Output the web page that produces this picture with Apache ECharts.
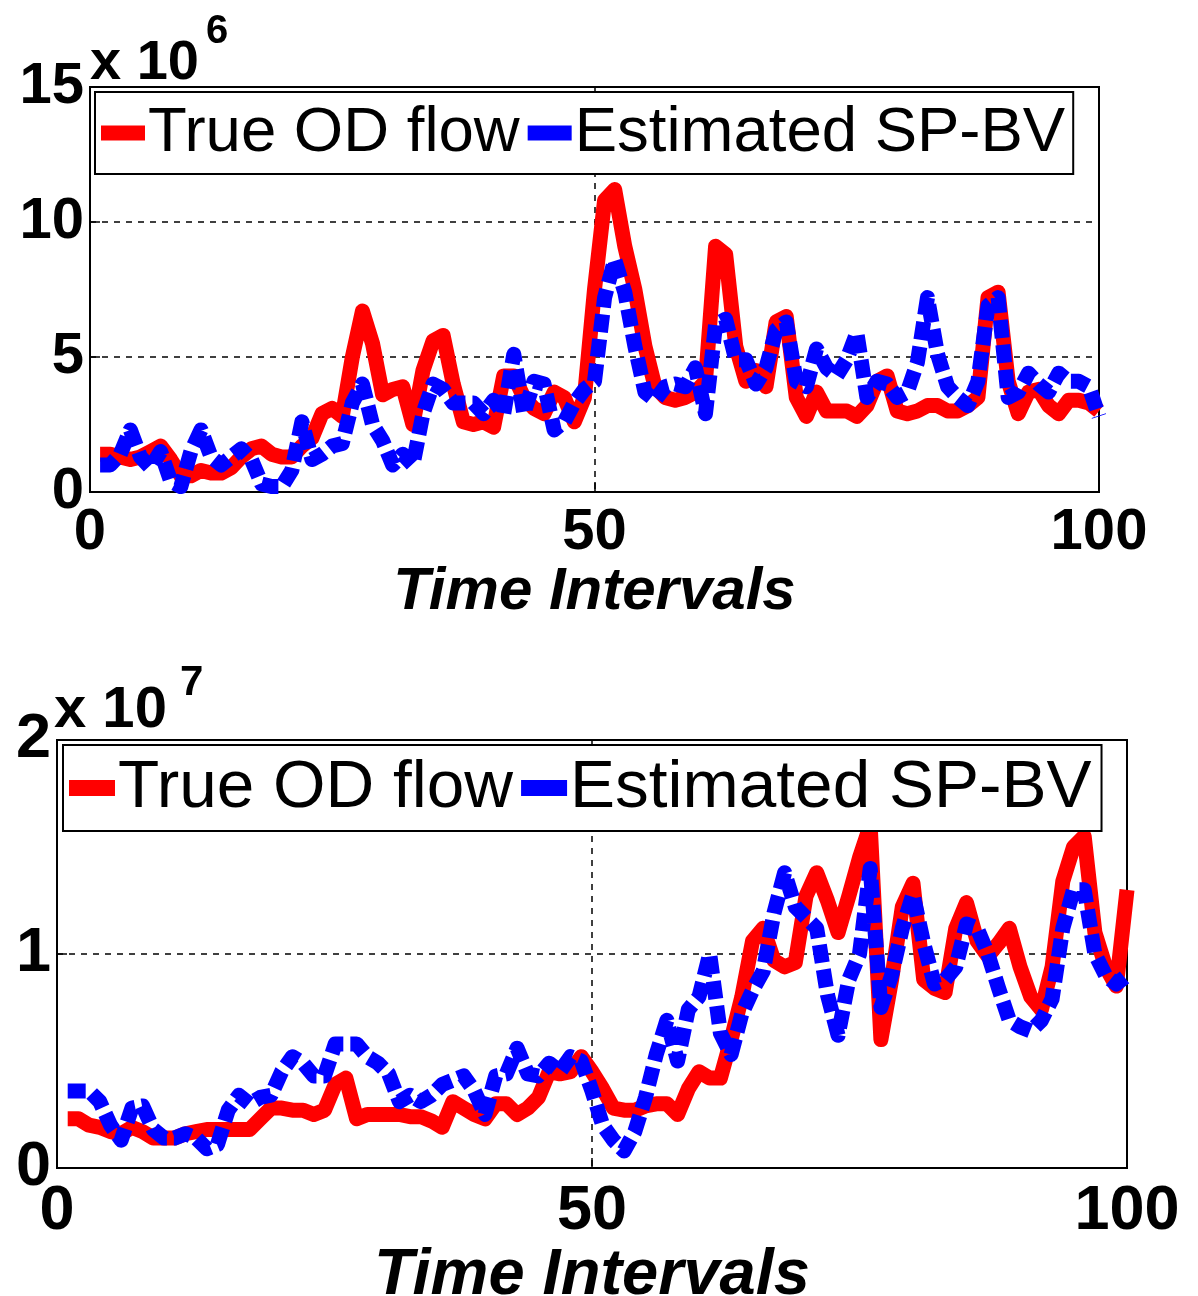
<!DOCTYPE html>
<html><head><meta charset="utf-8">
<script src="https://cdn.jsdelivr.net/npm/echarts@6/dist/echarts.min.js"></script>
<style>html,body{margin:0;padding:0;background:#fff}#c{width:1198px;height:1296px}</style>
</head><body><div id="c"></div>
<script>
const timeIntervals = [1,2,3,4,5,6,7,8,9,10,11,12,13,14,15,16,17,18,19,20,21,22,23,24,25,26,27,28,29,30,31,32,33,34,35,36,37,38,39,40,41,42,43,44,45,46,47,48,49,50,51,52,53,54,55,56,57,58,59,60,61,62,63,64,65,66,67,68,69,70,71,72,73,74,75,76,77,78,79,80,81,82,83,84,85,86,87,88,89,90,91,92,93,94,95,96,97,98,99,100];
// top panel, units of 10^6
const trueTop = [1.4,1.4,1.3,1.2,1.3,1.5,1.7,1.2,0.6,0.6,
0.8,0.7,0.7,0.9,1.3,1.6,1.7,1.4,1.3,1.3,
1.7,2.0,2.9,3.1,2.8,5.0,6.7,5.5,3.6,3.8,
3.9,2.5,4.5,5.6,5.8,4.0,2.6,2.5,2.6,2.4,
4.3,4.3,3.5,3.1,2.9,3.7,3.5,2.6,3.5,7.5,
10.8,11.2,9.1,7.5,5.4,3.9,3.5,3.4,3.5,3.7,
4.1,9.1,8.8,5.4,4.1,4.5,3.9,6.3,6.5,3.5,
2.8,3.7,3.0,3.0,3.0,2.8,3.2,4.1,4.3,3.0,
2.9,3.0,3.2,3.2,3.0,3.0,3.2,3.5,7.2,7.4,
4.1,2.9,3.7,3.8,3.2,2.9,3.4,3.4,3.3,3.0];
const estTop = [1.0,1.0,1.4,2.3,1.3,0.9,1.5,0.4,0.2,1.5,
2.3,1.3,1.0,1.3,1.6,1.2,0.3,0.2,0.2,0.8,
2.6,1.2,1.4,1.7,1.8,3.3,4.0,2.5,1.9,1.0,
1.4,1.0,2.9,4.0,3.8,3.3,3.3,3.3,2.9,3.4,
2.9,5.1,2.9,4.1,4.0,2.3,2.6,3.3,3.8,4.1,
7.2,8.6,7.4,5.4,3.7,3.4,3.9,4.0,3.9,4.6,
2.9,6.2,6.4,4.9,4.9,4.0,4.6,6.0,6.3,4.1,
3.9,5.3,4.6,4.3,4.9,5.9,3.5,4.1,4.0,3.5,
3.7,4.8,7.2,5.1,3.9,3.5,3.2,4.1,6.9,7.2,
3.5,3.7,4.4,4.0,3.7,4.4,4.1,4.1,3.9,2.8];
// bottom panel, units of 10^7
const trueBottom = [0.23,0.23,0.2,0.19,0.17,0.16,0.19,0.17,0.14,0.14,
0.14,0.16,0.17,0.18,0.18,0.18,0.18,0.18,0.23,0.28,
0.28,0.27,0.27,0.25,0.27,0.39,0.42,0.23,0.25,0.25,
0.25,0.25,0.24,0.24,0.22,0.19,0.31,0.28,0.25,0.23,
0.3,0.3,0.25,0.28,0.33,0.45,0.44,0.45,0.52,0.45,
0.37,0.28,0.27,0.27,0.29,0.3,0.3,0.25,0.37,0.45,
0.42,0.42,0.6,0.8,1.06,1.12,0.97,0.94,0.96,1.27,
1.38,1.25,1.1,1.27,1.45,1.6,0.6,0.88,1.22,1.33,
0.88,0.84,0.82,1.12,1.24,1.06,0.99,1.05,1.12,0.94,
0.8,0.74,0.94,1.34,1.5,1.55,1.1,0.94,0.85,1.3];
const estBottom = [0.36,0.36,0.36,0.31,0.2,0.13,0.28,0.29,0.18,0.14,
0.14,0.16,0.14,0.09,0.11,0.27,0.34,0.3,0.33,0.34,
0.45,0.52,0.49,0.43,0.43,0.58,0.58,0.58,0.52,0.49,
0.44,0.31,0.34,0.31,0.34,0.39,0.41,0.43,0.36,0.25,
0.43,0.44,0.56,0.44,0.43,0.49,0.45,0.52,0.5,0.36,
0.2,0.13,0.08,0.17,0.33,0.53,0.69,0.5,0.74,0.8,
1.0,0.63,0.53,0.72,0.83,0.92,1.19,1.38,1.22,1.17,
1.12,0.81,0.62,0.88,1.0,1.4,0.75,0.9,1.12,1.28,
1.05,0.86,0.88,0.94,1.14,1.12,1.0,0.84,0.69,0.66,
0.64,0.69,0.79,1.12,1.3,1.3,1.0,0.9,0.86,0.9];
const seriesNames = ['True OD flow', 'Estimated SP-BV'];
const xAxisName = 'Time Intervals';
const xRange = [0, 100, 50];
const yRangeTop = [0, 15, 5];
const yRangeBottom = [0, 2, 1];
const exponentTop = ['x 10', '6'];
const exponentBottom = ['x 10', '7'];

const FONT = "'Liberation Sans', Arial, sans-serif";
const RED = '#ff0000', BLUE = '#0000ff';
const pairs = (ys) => timeIntervals.map((t, i) => [t, ys[i]]);

function xAxis(idx, fs, gap) {
  return {
    type: 'value', gridIndex: idx, min: xRange[0], max: xRange[1], interval: xRange[2],
    name: xAxisName, nameLocation: 'middle', nameGap: gap,
    nameTextStyle: {fontFamily: FONT, fontSize: fs + 2, fontWeight: 'bold', fontStyle: 'italic', color: '#000'},
    axisLine: {show: true, lineStyle: {color: '#000', width: 2}},
    axisTick: {show: true, inside: true, length: 10, lineStyle: {color: '#000', width: 1.5}},
    axisLabel: {fontFamily: FONT, fontSize: fs, fontWeight: 'bold', color: '#000', margin: 12},
    splitLine: {show: true, lineStyle: {color: '#000', width: 1.5, type: [6, 6]}}
  };
}
function yAxis(idx, r, fs) {
  return {
    type: 'value', gridIndex: idx, min: r[0], max: r[1], interval: r[2],
    axisLine: {show: true, lineStyle: {color: '#000', width: 2}},
    axisTick: {show: true, inside: true, length: 10, lineStyle: {color: '#000', width: 1.5}},
    axisLabel: {fontFamily: FONT, fontSize: fs, fontWeight: 'bold', color: '#000', margin: 6},
    splitLine: {show: true, lineStyle: {color: '#000', width: 1.5, type: [6, 6]}}
  };
}
function lines(idx, tv, ev) {
  return [
    {name: seriesNames[0], type: 'line', xAxisIndex: idx, yAxisIndex: idx, data: pairs(tv),
     symbol: 'none', color: RED, lineStyle: {color: RED, width: 15, join: 'round'}, z: 2, silent: true, animation: false},
    {name: seriesNames[1], type: 'line', xAxisIndex: idx, yAxisIndex: idx, data: pairs(ev),
     symbol: 'none', color: BLUE, lineStyle: {color: BLUE, width: 15, type: [18, 7], cap: 'butt', join: 'round'}, z: 3, silent: true, animation: false}
  ];
}
function legend(left, top, fs, w, h, pad, gap) {
  return {
    show: true, left: left, top: top, orient: 'horizontal', selectedMode: false,
    data: [{name: seriesNames[0], icon: 'rect', itemStyle: {color: RED}},
           {name: seriesNames[1], icon: 'rect', itemStyle: {color: BLUE}}],
    itemWidth: w, itemHeight: h, itemGap: gap, padding: pad,
    backgroundColor: '#fff', borderColor: '#000', borderWidth: 2,
    textStyle: {fontFamily: FONT, fontSize: fs, color: '#000', padding: [0, 0, 0, -2]},
    z: 10
  };
}
const chart = echarts.init(document.getElementById('c'), null, {renderer: 'canvas'});
chart.setOption({
  backgroundColor: '#fff',
  animation: false,
  grid: [
    {left: 90, top: 87, width: 1009, height: 405, show: true, borderColor: '#000', borderWidth: 2, backgroundColor: '#fff', containLabel: false, outerBoundsMode: 'none'},
    {left: 57, top: 740, width: 1070, height: 428, show: true, borderColor: '#000', borderWidth: 2, backgroundColor: '#fff', containLabel: false, outerBoundsMode: 'none'}
  ],
  xAxis: [xAxis(0, 58, 64), xAxis(1, 63, 66)],
  yAxis: [yAxis(0, yRangeTop, 58), yAxis(1, yRangeBottom, 63)],
  legend: [legend(95, 92, 63.5, 44, 15, [9, 8, 9, 6], 8), legend(63, 745, 67.5, 46, 16, [9, 10, 9, 6], 8)],
  series: [...lines(0, trueTop, estTop), ...lines(1, trueBottom, estBottom)],
  graphic: [
    {type: 'text', left: 90, top: 36, style: {text: exponentTop[0], font: `bold 56px ${FONT}`, fill: '#000'}},
    {type: 'text', left: 206, top: 12, style: {text: exponentTop[1], font: `bold 40px ${FONT}`, fill: '#000'}},
    {type: 'text', left: 54, top: 682, style: {text: exponentBottom[0], font: `bold 58px ${FONT}`, fill: '#000'}},
    {type: 'text', left: 180, top: 662, style: {text: exponentBottom[1], font: `bold 42px ${FONT}`, fill: '#000'}}
  ]
});
</script></body></html>
